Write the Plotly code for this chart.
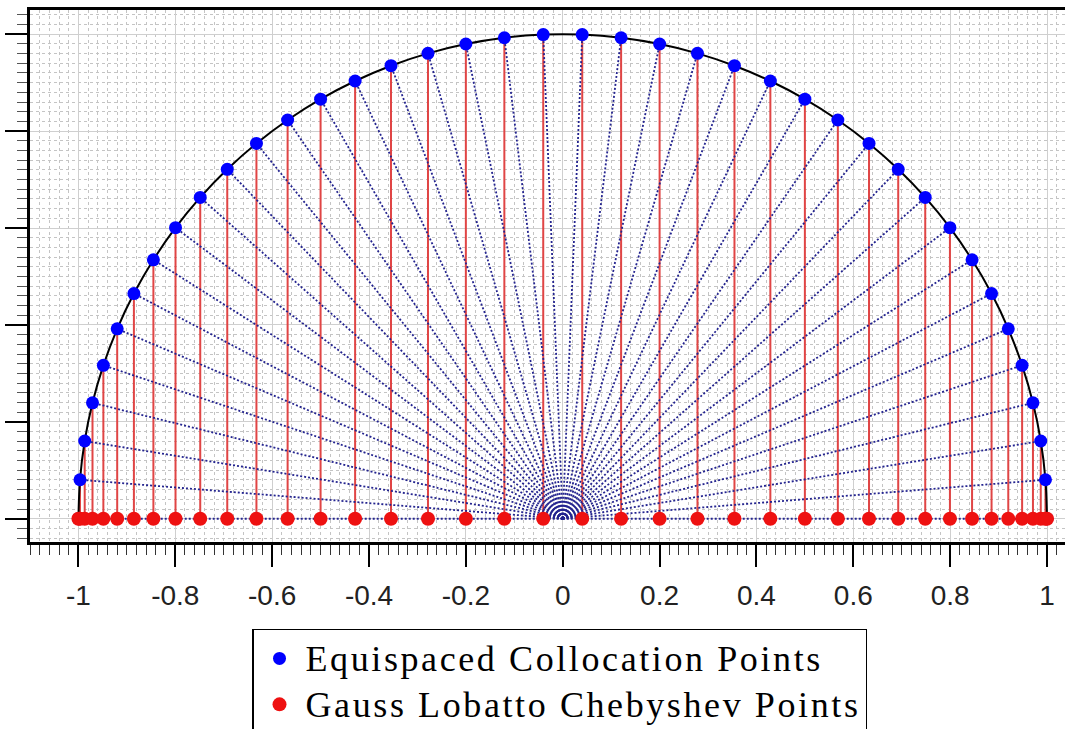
import plotly.graph_objects as go

# x-coordinates of the 40 points (shared by both point sets)
x_pts = [-1.0, -0.99676, -0.98705, -0.97094, -0.94853, -0.91996, -0.88546, -0.84519,
         -0.79952, -0.74851, -0.69272, -0.63244, -0.56806, -0.5, -0.42869, -0.3546,
         -0.27822, -0.20002, -0.12054, -0.04027, 0.04027, 0.12054, 0.20002, 0.27822,
         0.3546, 0.42869, 0.5, 0.56806, 0.63244, 0.69272, 0.74851, 0.79952, 0.84519,
         0.88546, 0.91996, 0.94853, 0.97094, 0.98705, 0.99676, 1.0]
# heights of the equispaced points on the unit semicircle
y_equi = [0.0, 0.08046, 0.16041, 0.23932, 0.31668, 0.39196, 0.46472, 0.53448,
          0.60065, 0.66312, 0.7212, 0.77461, 0.82297, 0.86603, 0.90345, 0.93502,
          0.96052, 0.97979, 0.99271, 0.99919, 0.99919, 0.99271, 0.97979, 0.96052,
          0.93502, 0.90345, 0.86603, 0.82297, 0.77461, 0.7212, 0.66312, 0.60065,
          0.53448, 0.46472, 0.39196, 0.31668, 0.23932, 0.16041, 0.08046, 0.0]
y_gauss = [0.0] * len(x_pts)
origin = (0.0, 0.0)

x_ticks = [-1, -0.8, -0.6, -0.4, -0.2, 0, 0.2, 0.4, 0.6, 0.8, 1]
x_ticklabels = ["-1", "-0.8", "-0.6", "-0.4", "-0.2", "0", "0.2", "0.4", "0.6", "0.8", "1"]

legend_names = ["Equispaced Collocation Points", "Gauss Lobatto Chebyshev Points"]

# stems and rays built from the data
stem_x, stem_y, ray_x, ray_y = [], [], [], []
for xv, yv, yg in zip(x_pts, y_equi, y_gauss):
    stem_x += [xv, xv, None]
    stem_y += [yg, yv, None]
    ray_x += [origin[0], xv, None]
    ray_y += [origin[1], yv, None]

span = '<span style="font-size:36px;letter-spacing:2.6px">{}</span>'

fig = go.Figure()
fig.add_trace(go.Scatter(x=stem_x, y=stem_y, mode="lines",
                         line=dict(color="#e04545", width=2), showlegend=False, hoverinfo="skip"))
fig.add_trace(go.Scatter(x=ray_x, y=ray_y, mode="lines",
                         line=dict(color="#24248f", width=1.8, dash="2px,2px"),
                         showlegend=False, hoverinfo="skip"))
fig.add_trace(go.Scatter(x=x_pts, y=y_equi, mode="lines", line_shape="spline",
                         line=dict(color="black", width=2), showlegend=False, hoverinfo="skip"))
fig.add_trace(go.Scatter(x=x_pts, y=y_equi, mode="markers",
                         marker=dict(color="#0000ff", size=13),
                         name=span.format(legend_names[0])))
fig.add_trace(go.Scatter(x=x_pts, y=y_gauss, mode="markers",
                         marker=dict(color="#ee1111", size=14),
                         name=span.format(legend_names[1])))

fig.update_layout(
    width=1065, height=729,
    margin=dict(l=30, r=0, t=10, b=187, autoexpand=False),
    paper_bgcolor="white", plot_bgcolor="white",
    showlegend=True,
    legend=dict(x=0.2145, y=-0.1635, xanchor="left", yanchor="top",
                orientation="v", bordercolor="black", borderwidth=1.5,
                bgcolor="white", itemwidth=42,
                font=dict(family="Liberation Serif", size=33, color="black")),
)
fig.update_xaxes(
    range=[-1.1, 1.0371], tickmode="array", tickvals=x_ticks, ticktext=x_ticklabels,
    showline=True, linecolor="black", linewidth=3, mirror=True,
    ticks="outside", ticklen=22, tickwidth=1.5, tickcolor="black",
    ticklabelstandoff=4,
    tickfont=dict(family="Liberation Sans", size=28, color="#222"),
    showgrid=True, gridcolor="#cfcfcf", gridwidth=1,
    minor=dict(dtick=0.02, ticks="outside", ticklen=10, tickcolor="#333", tickwidth=1.2,
               showgrid=True, gridcolor="#c4c4c4", griddash="dot", gridwidth=1),
    zeroline=False,
)
fig.update_yaxes(
    range=[-0.048, 1.05], dtick=0.2, tick0=0, showticklabels=False,
    showline=True, linecolor="black", linewidth=3, mirror=False,
    ticks="outside", ticklen=22, tickwidth=1.5, tickcolor="black",
    showgrid=True, gridcolor="#cfcfcf", gridwidth=1,
    minor=dict(dtick=0.02, ticks="outside", ticklen=10, tickcolor="#555", tickwidth=1.2,
               showgrid=True, gridcolor="#c4c4c4", griddash="dot", gridwidth=1),
    zeroline=False,
)

fig.write_html("out.html")
